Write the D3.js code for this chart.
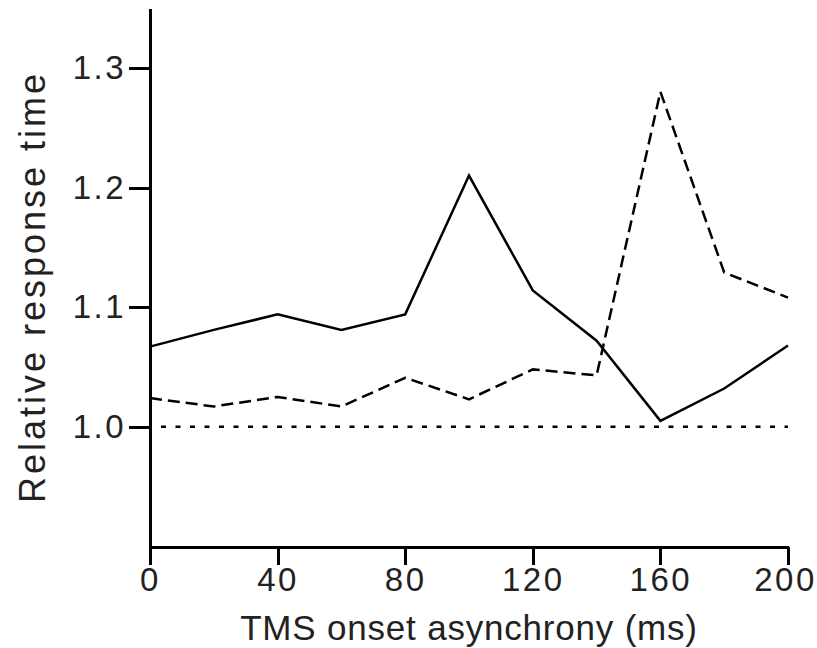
<!DOCTYPE html>
<html>
<head>
<meta charset="utf-8">
<script src="https://cdn.jsdelivr.net/npm/d3@7"></script>
<style>
  body { margin: 0; background: #fff; }
  text { font-family: "Liberation Sans", Arial, sans-serif; fill: #222; }
</style>
</head>
<body>
<svg id="chart" width="817" height="648"></svg>
<script>
// TMS onset asynchrony (ms)
const onsets = [0, 20, 40, 60, 80, 100, 120, 140, 160, 180, 200]
// relative response time, two conditions
const solidSeries = [1.067, 1.081, 1.094, 1.081, 1.094, 1.210, 1.114, 1.072, 1.005, 1.032, 1.068]
const dashedSeries = [1.024, 1.017, 1.025, 1.017, 1.041, 1.023, 1.048, 1.043, 1.280, 1.129, 1.108]
const baseline = 1.0
const xTicks = [0, 40, 80, 120, 160, 200]
const yTicks = [1.0, 1.1, 1.2, 1.3]

const svg = d3.select("#chart")

let x = d3.scaleLinear().domain([0, 200]).range([150, 788])
let y = d3.scaleLinear().domain([0.9, 1.35]).range([546.5, 8])

// reference line at 1.0
svg.append("line")
  .attr("x1", x(0)).attr("x2", x(200))
  .attr("y1", y(baseline)).attr("y2", y(baseline))
  .attr("stroke", "#000")
  .attr("stroke-width", 2.5)
  .attr("stroke-dasharray", "5,9.5")
  .attr("stroke-dashoffset", 3.5)

let lineGen = d3.line()
  .x((d, i) => x(onsets[i]))
  .y(d => y(d))

svg.append("path")
  .datum(solidSeries)
  .attr("d", lineGen)
  .attr("fill", "none")
  .attr("stroke", "#000")
  .attr("stroke-width", 2.5)

svg.append("path")
  .datum(dashedSeries)
  .attr("d", lineGen)
  .attr("fill", "none")
  .attr("stroke", "#000")
  .attr("stroke-width", 2.5)
  .attr("stroke-dasharray", "12,6")

// axes
svg.append("g")
  .attr("transform", `translate(${x(0)},0)`)
  .call(d3.axisLeft(y).tickValues(yTicks).tickFormat(d3.format(".1f")).tickSize(21).tickSizeOuter(0).tickPadding(3))

svg.append("g")
  .attr("transform", `translate(0,${y(0.9)})`)
  .call(d3.axisBottom(x).tickValues(xTicks).tickSize(18).tickSizeOuter(0).tickPadding(3))

svg.selectAll(".domain, .tick line")
  .attr("stroke", "#000")
  .attr("stroke-width", 3)
  .attr("shape-rendering", "crispEdges")

svg.selectAll(".tick text")
  .attr("fill", "#222")
  .style("font-size", "33px")
  .style("letter-spacing", "2.5px")
  .style("font-family", "'Liberation Sans', Arial, sans-serif")

// keep the last x label inside the frame
svg.selectAll(".tick text")
  .filter(d => d == 200)
  .attr("dx", -3)

// axis titles
svg.append("text")
  .attr("x", x(100))
  .attr("y", 640)
  .attr("text-anchor", "middle")
  .style("font-size", "35px")
  .style("letter-spacing", "0.8px")
  .text("TMS onset asynchrony (ms)")

svg.append("text")
  .attr("transform", "translate(45,287) rotate(-90)")
  .attr("text-anchor", "middle")
  .style("font-size", "36px")
  .style("letter-spacing", "3px")
  .text("Relative response time")
</script>
</body>
</html>
